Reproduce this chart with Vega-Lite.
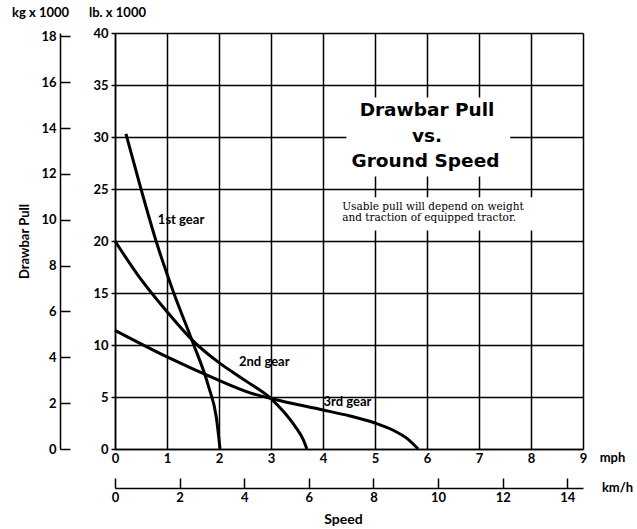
{
  "$schema": "https://vega.github.io/schema/vega-lite/v6.json",
  "width": 468,
  "height": 416,
  "autosize": "none",
  "padding": {"left": 115, "top": 33, "right": 54, "bottom": 80},
  "background": "white",
  "config": {
    "view": {"stroke": null},
    "axis": {
      "labelFont": "Lato", "labelFontWeight": "bold", "labelFontSize": 13, "labelColor": "#000",
      "titleFont": "Lato", "titleFontWeight": "bold", "titleFontSize": 13, "titleColor": "#000",
      "domainColor": "#000", "tickColor": "#000", "gridColor": "#000", "gridOpacity": 1,
      "domainWidth": 1.5, "tickWidth": 1.5, "gridWidth": 1.5, "labelFlush": false, "labelOverlap": false
    }
  },
  "datasets": {
    "curves": [
      {"gear": "1st", "mph": 0.21, "lb": 30.3},
      {"gear": "1st", "mph": 0.5, "lb": 25.0},
      {"gear": "1st", "mph": 0.79, "lb": 20.0},
      {"gear": "1st", "mph": 1.13, "lb": 15.0},
      {"gear": "1st", "mph": 1.5, "lb": 10.2},
      {"gear": "1st", "mph": 1.8, "lb": 6.0},
      {"gear": "1st", "mph": 1.95, "lb": 3.0},
      {"gear": "1st", "mph": 2.02, "lb": 0.0},
      {"gear": "2nd", "mph": 0.0, "lb": 20.0},
      {"gear": "2nd", "mph": 0.5, "lb": 16.3},
      {"gear": "2nd", "mph": 1.0, "lb": 13.2},
      {"gear": "2nd", "mph": 1.5, "lb": 10.4},
      {"gear": "2nd", "mph": 2.0, "lb": 8.3},
      {"gear": "2nd", "mph": 2.5, "lb": 6.6},
      {"gear": "2nd", "mph": 3.0, "lb": 4.85},
      {"gear": "2nd", "mph": 3.24, "lb": 3.6},
      {"gear": "2nd", "mph": 3.46, "lb": 2.2},
      {"gear": "2nd", "mph": 3.62, "lb": 0.9},
      {"gear": "2nd", "mph": 3.69, "lb": 0.0},
      {"gear": "3rd", "mph": 0.0, "lb": 11.4},
      {"gear": "3rd", "mph": 1.0, "lb": 8.85},
      {"gear": "3rd", "mph": 2.0, "lb": 6.6},
      {"gear": "3rd", "mph": 2.6, "lb": 5.4},
      {"gear": "3rd", "mph": 3.0, "lb": 4.85},
      {"gear": "3rd", "mph": 4.0, "lb": 3.75},
      {"gear": "3rd", "mph": 4.5, "lb": 3.2},
      {"gear": "3rd", "mph": 5.0, "lb": 2.5},
      {"gear": "3rd", "mph": 5.35, "lb": 1.8},
      {"gear": "3rd", "mph": 5.62, "lb": 1.0},
      {"gear": "3rd", "mph": 5.83, "lb": 0.0}
    ],
    "gearLabels": [
      {"label": "1st gear", "mph": 1.27, "lb": 22.0},
      {"label": "2nd gear", "mph": 2.87, "lb": 8.4},
      {"label": "3rd gear", "mph": 4.47, "lb": 4.5}
    ],
    "boxes": [
      {"mph": 4.45, "mph2": 7.6, "lb": 33.8, "lb2": 26.2},
      {"mph": 4.3, "mph2": 8.2, "lb": 24.2, "lb2": 21.0}
    ],
    "titleLines": [
      {"line": "Drawbar Pull", "mph": 6.0, "lb": 32.6},
      {"line": "vs.", "mph": 6.0, "lb": 30.1},
      {"line": "Ground Speed", "mph": 5.97, "lb": 27.7}
    ],
    "noteLines": [
      {"line": "Usable pull will depend on weight", "mph": 4.37, "lb": 23.3},
      {"line": "and traction of equipped tractor.", "mph": 4.37, "lb": 22.2}
    ],
    "kgAxis": [{"kmh": 0, "kg": 0}],
    "extraAxis": [{"s": 0, "d": 0}]
  },
  "layer": [
    {
      "encoding": {
        "x": {
          "field": "mph", "type": "quantitative",
          "scale": {"domain": [0, 9], "nice": false, "zero": false},
          "axis": {
            "orient": "bottom", "values": [0, 1, 2, 3, 4, 5, 6, 7, 8, 9], "grid": true,
            "tickSize": 0, "labelPadding": 3, "title": "mph",
            "titleX": 497, "titleY": 8, "titleAlign": "center", "titleBaseline": "middle", "titleAngle": 0
          }
        },
        "y": {
          "field": "lb", "type": "quantitative",
          "scale": {"domain": [0, 40], "nice": false, "zero": false},
          "axis": {
            "orient": "left", "values": [0, 5, 10, 15, 20, 25, 30, 35, 40], "grid": true,
            "tickSize": 4, "labelPadding": 3, "title": "lb. x 1000",
            "titleX": 2, "titleY": -21, "titleAlign": "center", "titleBaseline": "middle", "titleAngle": 0
          }
        }
      },
      "layer": [
        {
          "data": {"name": "boxes"},
          "mark": {"type": "rect", "fill": "white"},
          "encoding": {"x2": {"field": "mph2"}, "y2": {"field": "lb2"}}
        },
        {
          "data": {"name": "curves"},
          "mark": {"type": "line", "color": "#000", "strokeWidth": 3, "interpolate": "monotone"},
          "encoding": {"detail": {"field": "gear", "type": "nominal"}}
        },
        {
          "data": {"name": "gearLabels"},
          "mark": {"type": "text", "font": "Lato", "fontWeight": "bold", "fontSize": 13, "color": "#000", "align": "center", "baseline": "middle"},
          "encoding": {"text": {"field": "label"}}
        },
        {
          "data": {"name": "titleLines"},
          "mark": {"type": "text", "font": "DejaVu Sans", "fontWeight": "bold", "fontSize": 18.5, "color": "#000", "align": "center", "baseline": "middle"},
          "encoding": {"text": {"field": "line"}}
        },
        {
          "data": {"name": "noteLines"},
          "mark": {"type": "text", "font": "DejaVu Serif", "fontSize": 10.5, "color": "#000", "align": "left", "baseline": "middle"},
          "encoding": {"text": {"field": "line"}}
        }
      ]
    },
    {
      "data": {"name": "kgAxis"},
      "mark": {"type": "point", "opacity": 0},
      "encoding": {
        "x": {
          "field": "kmh", "type": "quantitative",
          "scale": {"domain": [0, 14.484], "nice": false, "zero": false},
          "axis": {
            "orient": "bottom", "offset": 39, "values": [0, 2, 4, 6, 8, 10, 12, 14], "grid": false,
            "tickSize": -10, "labelPadding": 13, "title": "km/h",
            "titleX": 502, "titleY": -1, "titleAlign": "center", "titleBaseline": "middle", "titleAngle": 0
          }
        },
        "y": {
          "field": "kg", "type": "quantitative",
          "scale": {"domain": [0, 18.144], "nice": false, "zero": false},
          "axis": {
            "orient": "left", "offset": 55, "values": [0, 2, 4, 6, 8, 10, 12, 14, 16, 18], "grid": false,
            "tickSize": -10, "labelPadding": 14, "title": "kg x 1000",
            "titleX": -20, "titleY": -21, "titleAlign": "center", "titleBaseline": "middle", "titleAngle": 0
          }
        }
      }
    },
    {
      "data": {"name": "extraAxis"},
      "mark": {"type": "point", "opacity": 0},
      "encoding": {
        "x": {
          "field": "s", "type": "quantitative",
          "scale": {"domain": [0, 1]},
          "axis": {
            "orient": "bottom", "domain": false, "ticks": false, "labels": false, "grid": false,
            "title": "Speed", "titleFontSize": 14,
            "titleX": 228, "titleY": 70, "titleAlign": "center", "titleBaseline": "middle", "titleAngle": 0
          }
        },
        "y": {
          "field": "d", "type": "quantitative",
          "scale": {"domain": [0, 1]},
          "axis": {
            "orient": "left", "domain": false, "ticks": false, "labels": false, "grid": false,
            "title": "Drawbar Pull",
            "titleX": -91, "titleY": 208, "titleAlign": "center", "titleBaseline": "middle", "titleAngle": -90
          }
        }
      }
    }
  ],
  "resolve": {"scale": {"x": "independent", "y": "independent"}}
}
